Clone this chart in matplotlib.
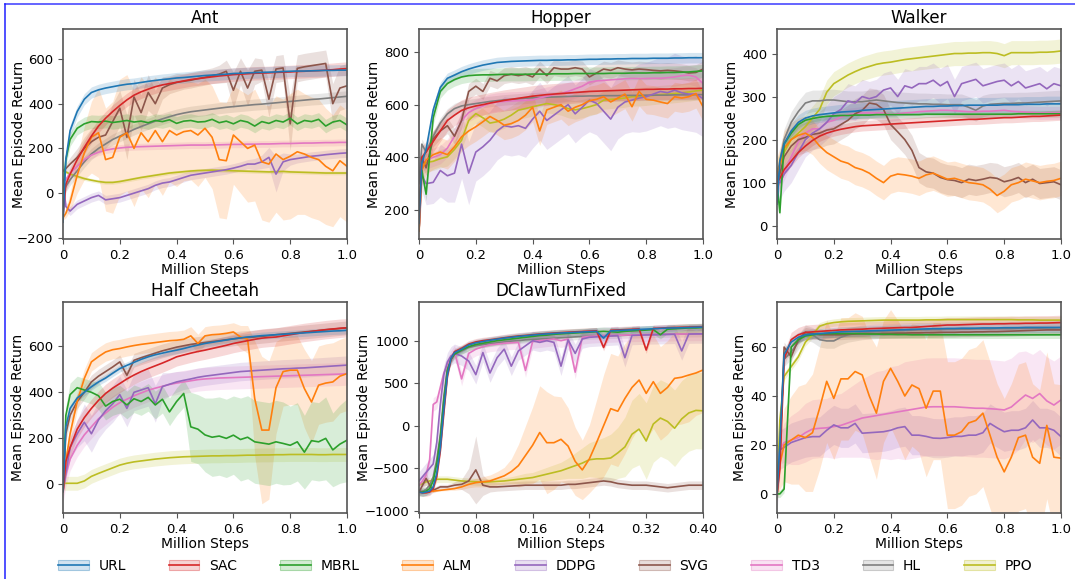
import numpy as np
import matplotlib
matplotlib.use('Agg')
import matplotlib.pyplot as plt
from matplotlib.patches import Patch
from matplotlib.lines import Line2D
from matplotlib.colors import to_rgba

methods = ['URL', 'SAC', 'MBRL', 'ALM', 'DDPG', 'SVG', 'TD3', 'HL', 'PPO']
colors = ['tab:blue', 'tab:red', 'tab:green', 'tab:orange', 'tab:purple',
          'tab:brown', 'tab:pink', 'tab:gray', 'tab:olive']

# sample points (million steps)
x_1m = [0, 0.01, 0.025, 0.05, 0.075, 0.1,
        0.125, 0.15, 0.175, 0.2,
        0.225, 0.25, 0.275, 0.3,
        0.325, 0.35, 0.375, 0.4,
        0.425, 0.45, 0.475, 0.5,
        0.525, 0.55, 0.575, 0.6,
        0.625, 0.65, 0.675, 0.7,
        0.725, 0.75, 0.775, 0.8,
        0.825, 0.85, 0.875, 0.9,
        0.925, 0.95, 0.975, 1.0]
x_dclaw = [0, 0.005, 0.01, 0.015, 0.02, 0.025, 0.03, 0.035, 0.04, 0.045, 0.05,
           0.06, 0.07, 0.08, 0.09, 0.10,
           0.11, 0.12, 0.13, 0.14, 0.15,
           0.16, 0.17, 0.18, 0.19, 0.20,
           0.21, 0.22, 0.23, 0.24, 0.25,
           0.26, 0.27, 0.28, 0.29, 0.30,
           0.31, 0.32, 0.33, 0.34, 0.35,
           0.36, 0.37, 0.38, 0.39, 0.40]

# ---------------- Ant ----------------
ant_url = [-130, 150, 280, 365, 420, 450,
           462, 470, 476, 482,
           487, 490, 495, 500,
           504, 508, 511, 515,
           517, 520, 523, 526,
           528, 530, 532, 535,
           536, 538, 539, 540,
           541, 542, 544, 545,
           546, 546, 547, 548,
           549, 549, 550, 550]
ant_sac = [-100, 40, 85, 150, 205, 255,
           300, 335, 365, 392,
           417, 438, 453, 465,
           476, 484, 490, 496,
           502, 508, 512, 516,
           520, 524, 527, 530,
           532, 534, 536, 537,
           538, 540, 541, 542,
           544, 545, 547, 548,
           550, 552, 555, 557]
ant_mbrl = [0, 150, 240, 290, 310, 320,
            318, 322, 316, 320,
            325, 318, 322, 315,
            325, 320, 328, 312,
            322, 325, 318, 320,
            330, 315, 322, 310,
            325, 318, 300, 320,
            312, 325, 318, 335,
            310, 325, 320, 330,
            300, 318, 325, 305]
ant_alm = [-110, -90, -40, 80, 180, 250,
           270, 150, 160, 250,
           270, 200, 270, 230,
           280, 230, 280, 260,
           275, 280, 260, 290,
           250, 150, 145, 260,
           230, 200, 215, 140,
           130, 175, 150, 165,
           185, 175, 160, 150,
           120, 100, 145, 120]
ant_alm_sd = [10, 20, 40, 80, 120, 160,
              200, 230, 250, 260,
              260, 260, 250, 250,
              240, 240, 230, 230,
              220, 220, 230, 220,
              230, 260, 260, 220,
              230, 240, 250, 260,
              260, 260, 270, 280,
              280, 270, 270, 270,
              260, 250, 250, 250]
ant_ddpg = [60, -60, -80, -50, -35, -20,
            -10, -30, -25, -20,
            -10, 0, 10, 20,
            35, 45, 50, 60,
            70, 80, 85, 90,
            95, 100, 105, 112,
            120, 130, 130, 140,
            160, 85, 140, 150,
            155, 160, 165, 168,
            172, 175, 178, 180]
ant_ddpg_sd = [10, 20, 20, 20, 20, 20,
               20, 20, 20, 20,
               20, 20, 20, 20,
               20, 20, 20, 20,
               20, 20, 20, 20,
               20, 20, 20, 20,
               20, 20, 25, 30,
               45, 80, 40, 25,
               20, 20, 20, 20,
               20, 20, 20, 20]
ant_svg = [100, 110, 130, 160, 200, 230,
           250, 260, 320, 380,
           250, 430, 360, 450,
           400, 470, 485, 495,
           500, 505, 512, 518,
           525, 532, 545, 460,
           545, 470, 545, 550,
           420, 555, 560, 310,
           558, 565, 570, 575,
           580, 400, 470, 480]
ant_svg_sd = [20, 20, 30, 40, 50, 60,
              60, 60, 80, 80,
              100, 80, 80, 80,
              60, 50, 40, 40,
              35, 35, 35, 35,
              35, 40, 50, 80,
              60, 80, 60, 50,
              80, 60, 60, 120,
              60, 60, 60, 60,
              60, 90, 100, 100]
ant_td3 = [50, 60, 90, 120, 150, 170,
           183, 192, 198, 202,
           205, 207, 208, 209,
           210, 211, 212, 213,
           214, 215, 215, 215,
           216, 216, 217, 218,
           218, 219, 219, 220,
           220, 221, 222, 222,
           223, 224, 224, 225,
           226, 226, 227, 227]
ant_hl = [0, 30, 60, 100, 140, 175,
          200, 220, 240, 255,
          270, 285, 298, 310,
          322, 332, 342, 351,
          358, 364, 368, 372,
          376, 380, 384, 387,
          390, 393, 396, 398,
          401, 404, 407, 410,
          413, 416, 419, 421,
          424, 427, 430, 433]
ant_ppo = [100, 95, 85, 75, 65, 58,
           52, 48, 48, 52,
           58, 64, 70, 75,
           80, 85, 90, 93,
           96, 99, 101, 102,
           103, 102, 101, 100,
           99, 98, 97, 96,
           95, 96, 97, 95,
           94, 93, 92, 91,
           90, 90, 90, 90]
ant_sd = [25, 30, 30, ant_alm_sd, ant_ddpg_sd, ant_svg_sd, 15, 25, 8]

# ---------------- Hopper ----------------
hop_url = [150, 380, 430, 580, 665, 700,
           712, 725, 735, 743,
           750, 755, 760, 762,
           764, 765, 766, 767,
           768, 768, 769, 769,
           770, 770, 771, 772,
           772, 773, 773, 774,
           774, 775, 775, 775,
           776, 776, 776, 777,
           777, 778, 778, 778]
hop_sac = [150, 400, 420, 460, 500, 540,
           560, 578, 588, 595,
           600, 606, 611, 616,
           620, 624, 628, 632,
           635, 638, 640, 642,
           644, 646, 648, 650,
           651, 652, 653, 654,
           655, 656, 657, 658,
           658, 659, 659, 660,
           660, 661, 661, 662]
hop_mbrl = [200, 350, 260, 550, 650, 680,
            695, 705, 710, 712,
            713, 713, 714, 715,
            715, 715, 715, 716,
            716, 716, 717, 717,
            717, 718, 718, 718,
            718, 718, 719, 719,
            719, 720, 720, 720,
            721, 721, 722, 722,
            723, 724, 726, 728]
hop_alm = [120, 350, 390, 410, 420, 410,
           440, 478, 500, 516,
           535, 555, 540, 522,
           528, 540, 560, 590,
           500, 580, 590, 600,
           575, 590, 600, 615,
           620, 630, 610, 625,
           640, 592, 650, 620,
           617, 610, 604, 630,
           625, 630, 642, 592]
hop_ddpg = [120, 330, 300, 305, 350, 330,
            340, 450, 340, 420,
            440, 465, 500, 520,
            515, 520, 510, 545,
            575, 540, 560, 580,
            600, 565, 590, 617,
            605, 575, 545, 590,
            610, 617, 625, 630,
            640, 650, 645, 655,
            645, 640, 640, 623]
hop_ddpg_sd = [20, 60, 80, 80, 100, 100,
               110, 130, 120, 110,
               110, 110, 110, 110,
               110, 110, 110, 110,
               110, 110, 110, 110,
               110, 110, 110, 120,
               120, 120, 120, 120,
               120, 120, 130, 130,
               130, 130, 135, 140,
               140, 140, 145, 145]
hop_svg = [120, 400, 360, 470, 500, 520,
           480, 540, 650, 670,
           650, 700, 690, 710,
           715, 710, 715, 705,
           735, 710, 740, 735,
           735, 740, 735, 705,
           720, 735, 730, 740,
           735, 732, 735, 733,
           730, 728, 730, 728,
           725, 720, 722, 735]
hop_td3 = [120, 380, 390, 400, 410, 435,
           480, 540, 570, 585,
           595, 605, 610, 612,
           614, 615, 616, 618,
           625, 632, 638, 642,
           650, 660, 670, 685,
           690, 692, 694, 696,
           698, 699, 699, 699,
           700, 700, 702, 705,
           710, 712, 705, 680]
hop_hl = [300, 450, 420, 480, 530, 565,
          585, 595, 600, 604,
          608, 612, 615, 618,
          620, 622, 624, 626,
          627, 628, 629, 630,
          631, 632, 632, 633,
          633, 634, 634, 634,
          635, 635, 635, 636,
          636, 636, 636, 637,
          637, 637, 638, 638]
hop_ppo = [120, 370, 380, 385, 395, 402,
           430, 465, 540, 566,
           550, 530, 535, 545,
           560, 579, 585, 592,
           598, 604, 600, 595,
           585, 580, 585, 592,
           600, 617, 620, 622,
           625, 630, 630, 632,
           635, 638, 640, 642,
           645, 648, 652, 655]
hop_sd = [20, 40, 25, 55, hop_ddpg_sd, 30, 35, 20, 35]

# ---------------- Walker ----------------
wal_url = [50, 150, 190, 220, 240, 250,
           255, 258, 260, 262,
           264, 265, 266, 268,
           269, 270, 271, 272,
           273, 274, 275, 276,
           277, 277, 278, 278,
           279, 279, 280, 280,
           280, 280, 280, 281,
           281, 281, 282, 282,
           282, 283, 283, 283]
wal_sac = [100, 110, 130, 150, 170, 185,
           198, 208, 215, 220,
           224, 227, 230, 232,
           233, 234, 235, 236,
           237, 238, 239, 240,
           241, 242, 243, 244,
           245, 246, 247, 247,
           248, 249, 250, 251,
           251, 252, 253, 254,
           254, 255, 256, 257]
wal_mbrl = [100, 30, 190, 215, 235, 245,
            249, 252, 254, 255,
            256, 256, 257, 257,
            257, 258, 258, 258,
            258, 258, 258, 258,
            259, 259, 259, 259,
            259, 259, 259, 259,
            259, 259, 259, 259,
            259, 260, 260, 260,
            260, 260, 260, 260]
wal_alm = [120, 140, 180, 200, 210, 215,
           205, 185, 170, 160,
           150, 145, 135, 130,
           122, 110, 100, 115,
           120, 118, 115, 110,
           118, 122, 115, 108,
           110, 105, 100, 98,
           95, 85, 70, 80,
           95, 100, 108, 104,
           100, 103, 105, 110]
wal_ddpg = [100, 100, 120, 140, 170, 200,
            215, 225, 240, 260,
            270, 290, 285, 300,
            295, 300, 315, 320,
            300, 325, 320, 330,
            330, 338, 325, 335,
            300, 330, 335, 340,
            325, 330, 335, 338,
            325, 335, 320, 325,
            330, 318, 330, 325]
wal_svg = [100, 120, 160, 185, 200, 205,
           212, 215, 222, 225,
           235, 245, 260, 268,
           285, 282, 270, 235,
           218, 200, 175, 135,
           125, 122, 112, 107,
           105, 100, 108, 105,
           108, 112, 110, 102,
           106, 112, 100, 108,
           98, 100, 102, 95]
wal_td3 = [100, 100, 120, 160, 195, 215,
           225, 225, 240, 245,
           252, 258, 260, 262,
           262, 262, 262, 258,
           260, 262, 263, 265,
           266, 267, 268, 268,
           267, 266, 265, 265,
           266, 266, 267, 268,
           266, 265, 264, 263,
           262, 262, 262, 262]
wal_hl = [100, 150, 200, 240, 265, 285,
          290, 290, 292, 292,
          290, 288, 288, 288,
          290, 292, 290, 288,
          286, 285, 284, 283,
          283, 282, 282, 281,
          281, 281, 275, 268,
          278, 282, 283, 284,
          284, 285, 285, 286,
          287, 288, 289, 290]
wal_ppo = [130, 140, 170, 200, 215, 230,
           250, 270, 310, 330,
           340, 350, 358, 365,
           370, 375, 378, 380,
           383, 386, 388, 390,
           392, 394, 396, 398,
           400, 400, 401, 401,
           402, 402, 400, 395,
           402, 402, 402, 402,
           403, 403, 404, 406]
wal_sd = [18, 12, 8, 40, 40, 35, 15, 25, 28]

# ---------------- Half Cheetah ----------------
hc_url = [-30, 250, 330, 375, 400, 424,
          445, 462, 483, 503,
          517, 530, 543, 554,
          563, 570, 577, 583,
          590, 598, 605, 612,
          617, 622, 627, 632,
          636, 640, 643, 646,
          648, 650, 652, 654,
          656, 658, 660, 662,
          664, 666, 667, 669]
hc_sac = [-30, 100, 160, 240, 290, 330,
          365, 395, 418, 438,
          458, 475, 490, 503,
          515, 527, 540, 554,
          562, 570, 577, 583,
          590, 597, 604, 612,
          618, 624, 630, 635,
          638, 640, 645, 650,
          655, 660, 664, 668,
          672, 675, 678, 680]
hc_mbrl = [-30, 300, 390, 420, 410, 400,
           385, 340, 360, 370,
           345, 372, 360, 378,
           345, 370, 315, 360,
           395, 250, 240, 215,
           205, 210, 200, 214,
           195, 205, 185, 180,
           175, 185, 178, 170,
           185, 140, 190, 185,
           200, 150, 175, 192]
hc_mbrl_sd = [10, 40, 50, 50, 50, 50,
              60, 60, 60, 60,
              60, 60, 60, 60,
              60, 60, 60, 60,
              60, 150, 150, 160,
              170, 170, 170, 170,
              180, 180, 180, 180,
              180, 180, 180, 170,
              170, 160, 170, 170,
              180, 160, 170, 180]
hc_alm = [-30, 100, 220, 360, 460, 532,
          555, 575, 585, 590,
          597, 603, 608, 612,
          616, 620, 624, 626,
          630, 645, 612, 645,
          650, 652, 656, 662,
          640, 630, 373, 236,
          236, 420, 490, 496,
          496, 416, 358, 431,
          440, 445, 470, 481]
hc_alm_sd = [10, 30, 40, 40, 40, 40,
             40, 40, 40, 40,
             40, 40, 40, 40,
             40, 40, 40, 40,
             40, 40, 40, 40,
             40, 40, 40, 40,
             50, 60, 250, 320,
             300, 200, 150, 150,
             150, 170, 180, 170,
             170, 170, 160, 160]
hc_ddpg = [-30, 50, 160, 220, 270, 220,
           280, 320, 350, 390,
           330, 400, 410, 420,
           350, 425, 435, 445,
           452, 458, 465, 470,
           474, 478, 482, 486,
           490, 492, 494, 496,
           498, 500, 502, 503,
           505, 506, 508, 510,
           512, 514, 516, 518]
hc_ddpg_sd = [10, 30, 50, 60, 80, 80,
              80, 80, 80, 80,
              80, 80, 80, 80,
              80, 60, 50, 45,
              40, 40, 40, 40,
              40, 40, 40, 40,
              40, 40, 40, 40,
              40, 40, 40, 40,
              40, 40, 40, 40,
              40, 40, 40, 40]
hc_svg = [-30, 220, 300, 360, 400, 445,
          470, 490, 510, 532,
          474, 539, 550, 560,
          570, 580, 588, 596,
          602, 608, 612, 616,
          620, 624, 628, 632,
          636, 638, 640, 643,
          646, 650, 653, 656,
          659, 662, 665, 668,
          671, 674, 677, 680]
hc_td3 = [-30, 40, 110, 170, 215, 250,
          285, 310, 335, 355,
          370, 385, 397, 409,
          418, 426, 434, 440,
          445, 450, 455, 458,
          460, 462, 463, 464,
          465, 466, 467, 468,
          469, 470, 471, 472,
          473, 474, 475, 476,
          477, 478, 479, 481]
hc_ppo = [5, 5, 5, 5, 15, 35,
          48, 60, 72, 84,
          92, 98, 102, 106,
          110, 113, 116, 118,
          120, 121, 122, 123,
          124, 124, 125, 125,
          126, 127, 127, 128,
          128, 129, 129, 130,
          130, 130, 130, 129,
          129, 130, 130, 130]
hc_hl = None  # no HL run on Half Cheetah
hc_sd = [15, 40, hc_mbrl_sd, hc_alm_sd, hc_ddpg_sd, 30, 50, 0, 30]

# ---------------- DClawTurnFixed ----------------
dc_url = [-780, -790, -780, -770, -720, -560, -260, 200, 600, 790, 860,
          900, 950, 975, 990, 1005,
          1018, 1030, 1040, 1050, 1058,
          1066, 1074, 1080, 1085, 1090,
          1094, 1098, 1102, 1106, 1110,
          1030, 1115, 1120, 1124, 1128,
          1132, 1136, 1140, 1144, 1148,
          1150, 1152, 1155, 1158, 1160]
dc_sac = [-780, -790, -790, -780, -740, -600, -300, 150, 580, 780, 870,
          910, 960, 985, 1000, 1010,
          1022, 1034, 1045, 1055, 1062,
          1070, 1078, 1084, 1090, 1095,
          1100, 1104, 1108, 1112, 1116,
          920, 1122, 1126, 1130, 1134,
          1138, 890, 1144, 1148, 1152,
          1155, 1158, 1160, 1162, 1165]
dc_mbrl = [-780, -780, -770, -740, -650, -450, -150, 300, 650, 780, 840,
           890, 930, 955, 970, 985,
           1000, 1010, 1020, 1030, 1040,
           1050, 1060, 1065, 1075, 1080,
           1085, 1090, 1095, 1100, 1105,
           1110, 1105, 1100, 1110, 1115,
           1120, 1125, 1130, 1070, 1135,
           1140, 1145, 1150, 1150, 1155]
dc_alm = [-780, -780, -780, -775, -770, -765, -760, -755, -750, -745, -740,
          -720, -690, -670, -660, -650,
          -620, -590, -540, -470, -350,
          -230, -80, -200, -200, -160,
          -240, -420, -520, -390, -200,
          0, 200, 170, 320, 450,
          537, 380, 518, 380, 450,
          557, 570, 596, 620, 655]
dc_alm_sd = [10, 10, 10, 10, 10, 10, 10, 10, 15, 15, 20,
             30, 40, 50, 60, 70,
             80, 100, 150, 250, 350,
             450, 550, 600, 550, 500,
             450, 400, 350, 400, 500,
             600, 650, 650, 650, 600,
             550, 550, 550, 550, 550,
             550, 550, 550, 500, 500]
dc_ddpg = [-650, -600, -550, -500, -450, -200, 250, 600, 750, 820, 850,
           820, 760, 600, 860, 620,
           800, 900, 700, 880, 940,
           1000, 980, 1000, 980, 700,
           1010, 850, 1020, 1040, 1045,
           1050, 1055, 1060, 800, 1062,
           1065, 1068, 1070, 1072, 1074,
           1076, 880, 1078, 1080, 1080]
dc_svg = [-780, -700, -620, -700, -760, -740, -720, -720, -720, -710, -700,
          -690, -650, -520, -700, -720,
          -720, -715, -710, -705, -700,
          -700, -700, -700, -700, -700,
          -690, -690, -680, -670, -660,
          -650, -660, -680, -690, -700,
          -700, -700, -710, -720, -730,
          -720, -710, -700, -700, -700]
dc_svg_sd = [20, 40, 80, 40, 30, 30, 30, 30, 30, 30, 40,
             60, 150, 400, 120, 60,
             50, 50, 50, 50, 50,
             50, 50, 50, 50, 50,
             50, 50, 50, 50, 50,
             50, 50, 50, 50, 50,
             50, 50, 50, 50, 50,
             50, 50, 50, 50, 50]
dc_td3 = [-700, -650, -580, -400, 250, 280, 450, 620, 720, 800, 870,
          550, 850, 900, 930, 950,
          960, 970, 975, 980, 650,
          990, 1000, 1010, 1020, 1000,
          1020, 630, 1040, 1050, 1055,
          1060, 1062, 1064, 1066, 1068,
          1070, 1072, 1074, 1075, 1076,
          1077, 1078, 1079, 1080, 1080]
dc_hl = [-780, -770, -750, -700, -600, -400, -100, 350, 680, 780, 840,
         880, 920, 940, 955, 965,
         975, 985, 995, 1000, 1010,
         1015, 1020, 1025, 1030, 1035,
         1040, 1045, 1050, 1052, 1055,
         1058, 1060, 1062, 1064, 1066,
         1068, 1070, 1072, 1074, 1075,
         1076, 1077, 1078, 1079, 1080]
dc_ppo = [-700, -680, -660, -650, -640, -630, -630, -630, -630, -635, -640,
          -650, -655, -660, -665, -660,
          -655, -650, -640, -630, -620,
          -610, -590, -570, -550, -530,
          -500, -470, -440, -400, -390,
          -390, -380, -320, -250, -100,
          -40, -180, 20, 90, 50,
          -30, 80, 150, 180, 175]
dc_ppo_sd = [20, 30, 40, 40, 40, 40, 40, 40, 40, 40, 40,
             40, 40, 40, 40, 40,
             40, 40, 40, 50, 60,
             60, 70, 80, 90, 100,
             120, 150, 180, 200, 220,
             250, 280, 300, 350, 400,
             420, 450, 450, 450, 450,
             450, 450, 450, 450, 450]
dc_sd = [40, 40, 50, dc_alm_sd, 110, dc_svg_sd, 80, 35, dc_ppo_sd]

# ---------------- Cartpole ----------------
cp_url = [0, 20, 57, 62, 64, 65,
          65.3, 65.5, 65.7, 66,
          66.2, 66.3, 66.4, 66.5,
          66.6, 66.7, 66.8, 66.9,
          67, 67.1, 67.2, 67.3,
          67.4, 67.5, 67.5, 67.6,
          67.6, 67.7, 67.7, 67.7,
          67.8, 67.8, 67.8, 67.9,
          67.9, 67.9, 68, 68,
          68, 68, 68, 68]
cp_sac = [0, 10, 55, 63, 65, 66,
          66.2, 66.4, 66.6, 66.8,
          67, 67.1, 67.2, 67.3,
          67.5, 67.6, 67.7, 67.8,
          67.9, 68, 68, 68.2,
          68.4, 68.6, 68.8, 69,
          69, 69.1, 69.2, 69.3,
          69.4, 69.4, 69.5, 69.5,
          69.6, 69.6, 69.7, 69.7,
          69.8, 69.8, 69.9, 70]
cp_mbrl = [0, 0, 2, 60, 63, 64.5,
           65, 65.3, 65.5, 65.5,
           65.5, 65.5, 65.5, 65.4,
           65.3, 65.3, 65.2, 65.2,
           65.1, 65.1, 65, 65,
           65, 65, 65, 65,
           65, 65, 65, 65,
           65, 65, 65, 65,
           65, 65, 65, 65,
           65, 65, 65, 65]
cp_alm = [0, 12, 20, 22, 24, 23,
          25, 35, 46, 39,
          47, 47, 50, 48.6,
          40, 33, 46, 51.3,
          46, 40, 44.5, 43,
          35, 42, 42, 24,
          24, 25.4, 29, 30,
          33, 24, 15, 9,
          15, 23, 24, 15,
          12.5, 28, 15, 14.6]
cp_alm_sd = [2, 10, 15, 18, 20, 22,
             24, 25, 25, 25,
             25, 25, 24, 24,
             25, 27, 25, 24,
             25, 26, 25, 26,
             28, 28, 28, 30,
             30, 30, 30, 30,
             30, 30, 30, 30,
             30, 30, 30, 30,
             30, 30, 30, 30]
cp_ddpg = [0, 18, 19, 21, 22, 23,
           23.4, 23.4, 26, 28.2,
           27, 27, 28.8, 24.8,
           25, 25.2, 25.4, 26,
           27, 27.5, 24, 24,
           23.5, 22.8, 22.7, 23,
           23.5, 23.5, 24, 24,
           25, 28.8, 27, 25.4,
           26, 26, 27, 30.2,
           27, 27, 26, 23.4]
cp_svg = [0, 15, 60, 56, 63, 66,
          65.5, 65, 65, 65,
          65, 65.2, 65.3, 65.4,
          65.5, 65.5, 65.6, 65.6,
          65.7, 65.7, 65.8, 65.8,
          65.9, 65.9, 66, 66,
          66, 66.1, 66.1, 66.2,
          66.2, 66.3, 66.3, 66.4,
          66.5, 66.6, 66.7, 66.8,
          66.9, 67, 67, 67]
cp_td3 = [0, 18, 21, 22, 23, 25,
          26.5, 26.8, 27, 27.5,
          28, 29, 30, 31,
          31.5, 32, 32.5, 33,
          33.5, 34, 34.5, 35,
          35.5, 35.6, 35.6, 35.6,
          35.6, 35.4, 35.2, 35,
          35, 34.8, 34.6, 34.3,
          35.5, 38, 40.4, 39,
          41, 38, 36.3, 38.4]
cp_td3_sd = [2, 6, 8, 10, 11, 12,
             12, 12, 12, 13,
             13, 14, 15, 16,
             17, 18, 18, 19,
             19, 20, 20, 20,
             20, 20, 20, 20,
             20, 20, 20, 20,
             20, 20, 20, 20,
             20, 20, 18, 18,
             18, 18, 18, 18]
cp_hl = [0, 20, 55, 58, 62, 66,
         65, 63, 62.5, 62.5,
         64, 65, 65.5, 66,
         66.2, 66.4, 66.5, 66.6,
         66.7, 66.8, 66.9, 67,
         67, 67.1, 67.1, 67.2,
         67.2, 67.3, 67.3, 67.4,
         67.4, 67.4, 67.5, 67.5,
         67.5, 67.6, 67.6, 67.7,
         67.7, 67.8, 67.8, 67.9]
cp_ppo = [0, 30, 48, 52, 56, 62,
          65, 68.5, 69.5, 70,
          70.3, 70.5, 70.6, 70.7,
          70.8, 70.9, 71, 71,
          71, 71, 71, 71,
          71.1, 71.1, 71.1, 71.2,
          71.2, 71.2, 71.2, 71.2,
          71.2, 71.2, 71.2, 71.2,
          71.2, 71.1, 71.1, 71.1,
          71, 71, 71, 71]
cp_sd = [2, 3, 1.5, cp_alm_sd, 8, 2, cp_td3_sd, 3, 1.5]

panels = [
    ('Ant', x_1m,
     [ant_url, ant_sac, ant_mbrl, ant_alm, ant_ddpg, ant_svg, ant_td3, ant_hl, ant_ppo],
     ant_sd, (-205, 734), [-200, 0, 200, 400, 600]),
    ('Hopper', x_1m,
     [hop_url, hop_sac, hop_mbrl, hop_alm, hop_ddpg, hop_svg, hop_td3, hop_hl, hop_ppo],
     hop_sd, (90, 887), [200, 400, 600, 800]),
    ('Walker', x_1m,
     [wal_url, wal_sac, wal_mbrl, wal_alm, wal_ddpg, wal_svg, wal_td3, wal_hl, wal_ppo],
     wal_sd, (-31, 457), [0, 100, 200, 300, 400]),
    ('Half Cheetah', x_1m,
     [hc_url, hc_sac, hc_mbrl, hc_alm, hc_ddpg, hc_svg, hc_td3, hc_hl, hc_ppo],
     hc_sd, (-124, 792), [0, 200, 400, 600]),
    ('DClawTurnFixed', x_dclaw,
     [dc_url, dc_sac, dc_mbrl, dc_alm, dc_ddpg, dc_svg, dc_td3, dc_hl, dc_ppo],
     dc_sd, (-1027, 1455), [-1000, -500, 0, 500, 1000]),
    ('Cartpole', x_1m,
     [cp_url, cp_sac, cp_mbrl, cp_alm, cp_ddpg, cp_svg, cp_td3, cp_hl, cp_ppo],
     cp_sd, (-7.8, 78.4), [0, 20, 40, 60]),
]

W, H = 1075, 579
fig = plt.figure(figsize=(W / 100, H / 100), dpi=100)
col_left = [63, 419, 777]
row_box = [(29, 239), (302, 513)]  # (top, bottom) in pixels
# right edge of each y label, in axes units
ylabel_x = [-0.130, -0.134, -0.134, -0.134, -0.169, -0.105]

for k, (title, xs, series, sds, ylim, yticks) in enumerate(panels):
    r, c = divmod(k, 3)
    top, bot = row_box[r]
    ax = fig.add_axes([col_left[c] / W, 1 - bot / H, 284 / W, (bot - top) / H])
    x = np.asarray(xs)
    # URL drawn last so it sits on top
    for i in reversed(range(len(methods))):
        y = series[i]
        if y is None:
            continue
        y = np.asarray(y, dtype=float)
        sd = sds[i]
        sd = np.full_like(y, sd) if np.isscalar(sd) else np.asarray(sd, dtype=float)
        ax.fill_between(x, y - sd, y + sd, color=colors[i], alpha=0.18, lw=0)
        ax.plot(x, y, color=colors[i], lw=1.2)

    if title == 'DClawTurnFixed':
        xt = [0, 0.08, 0.16, 0.24, 0.32, 0.40]
        xl = ['0', '0.08', '0.16', '0.24', '0.32', '0.40']
        ax.set_xlim(0, 0.4)
    else:
        xt = [0, 0.2, 0.4, 0.6, 0.8, 1.0]
        xl = ['0', '0.2', '0.4', '0.6', '0.8', '1.0']
        ax.set_xlim(0, 1.0)
    ax.set_xticks(xt)
    ax.set_xticklabels(xl)
    ax.set_ylim(*ylim)
    ax.set_yticks(yticks)
    ax.tick_params(labelsize=9.5, length=3.5, color='#555555')
    for s in ax.spines.values():
        s.set_color('#555555')
        s.set_linewidth(1.2)
    ax.set_title(title, fontsize=12, pad=4)
    ax.set_xlabel('Million Steps', fontsize=10, labelpad=1)
    ax.set_ylabel('Mean Episode Return', fontsize=10)
    ax.yaxis.set_label_coords(ylabel_x[k], 0.5)

handles = [(Patch(facecolor=to_rgba(c, 0.2), edgecolor=to_rgba(c, 0.35), lw=0.8),
            Line2D([], [], color=c, lw=1.2)) for c in colors]
fig.legend(handles, methods, loc='center', bbox_to_anchor=(0.507, 1 - 566 / H),
           ncol=9, frameon=False, fontsize=10, handlelength=2.2,
           handletextpad=0.7, columnspacing=3.1)

# thin blue frame along top and left edge, as in the screenshot
fig.add_artist(Line2D([5 / W, 1], [1 - 3.5 / H, 1 - 3.5 / H], transform=fig.transFigure,
                      color='#3a3aff', lw=1.1))
fig.add_artist(Line2D([5.5 / W, 5.5 / W], [0, 1 - 3.5 / H], transform=fig.transFigure,
                      color='#2020ff', lw=1.1))

fig.savefig('out.png', dpi=100)
